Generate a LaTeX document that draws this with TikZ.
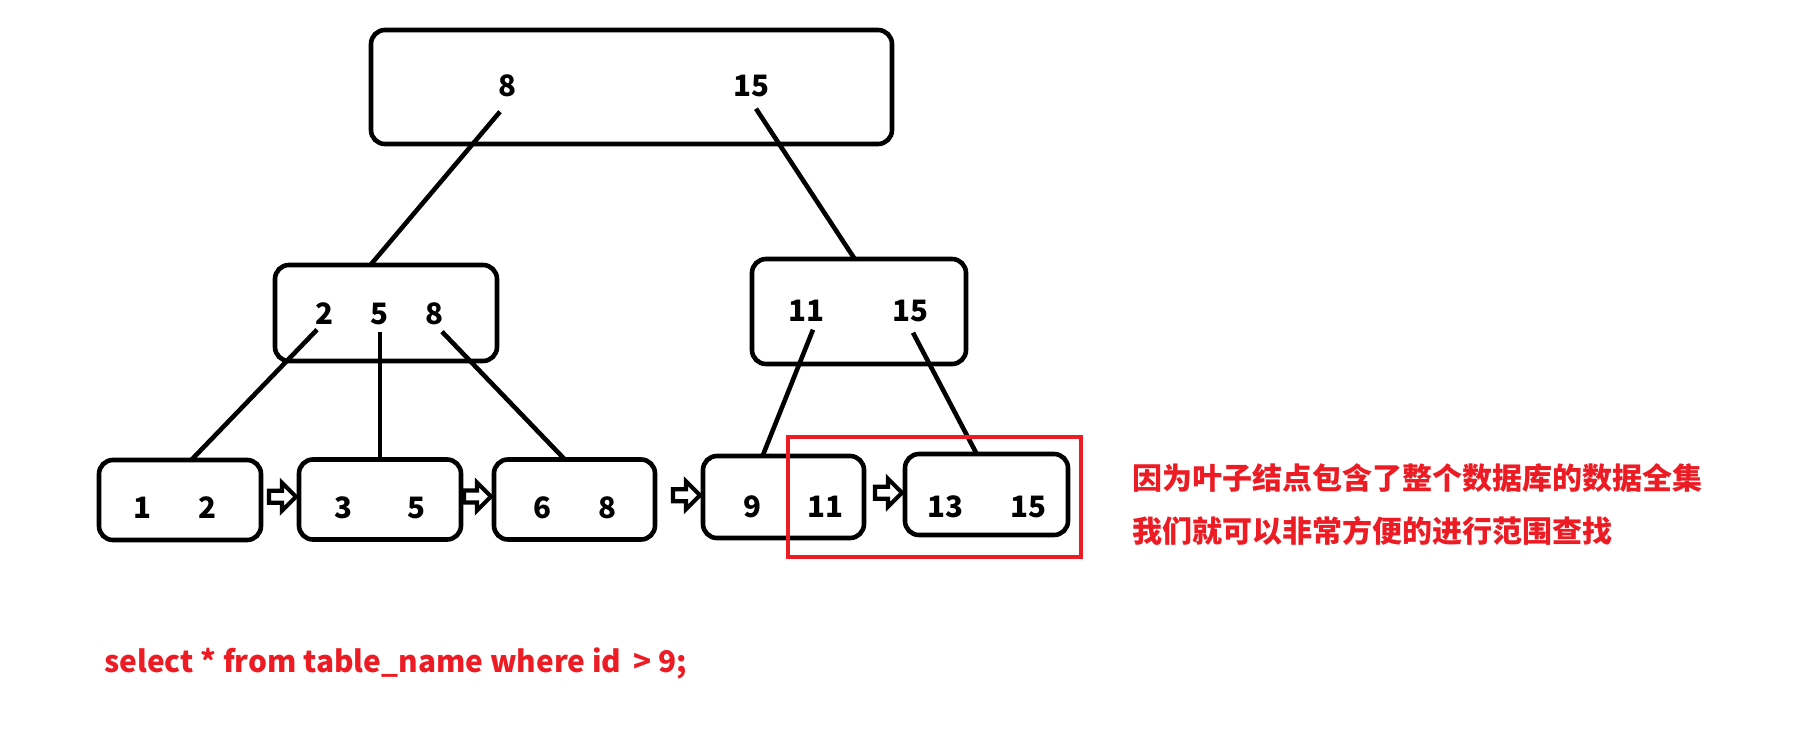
\documentclass[tikz,border=0pt]{standalone}
\usepackage{fontspec}
\newfontfamily\cjk{Noto Sans CJK SC}
\usetikzlibrary{calc}
\definecolor{pred}{HTML}{ED1C24}
\newcommand\blockarr[2]{%
  \path ($(#1.east)!0.5!(#2.west)$) coordinate (m#1#2);
  \draw[blk] ($(#2.west|-m#1#2)+(-3,-3)$) -- ++(-14,-14) -- ++(0,8) -- ++(-13,0) -- ++(0,12) -- ++(13,0) -- ++(0,8) -- cycle;}
\begin{document}
\begin{tikzpicture}[x=1pt,y=-1pt,
  box/.style={draw=black, line width=4.6pt, rounded corners=14pt, inner sep=0pt, outer sep=0pt},
  num/.style={font=\cjk\bfseries\fontsize{29.5}{29.5}\selectfont, inner sep=0pt, text height=21pt, text depth=0pt},
  link/.style={draw=black, line width=4.6pt},
  blk/.style={draw=black, fill=white, line width=4.2pt, line join=miter},
  hl/.style={draw=pred, line width=4.4pt, inner sep=0pt, outer sep=0pt},
  note/.style={font=\cjk\bfseries\fontsize{30}{30}\selectfont, text=pred, inner sep=0pt, anchor=base west}]
\fill[white] (0,0) rectangle (1815,752);
\useasboundingbox (0,0) rectangle (1815,752);

% boxes
\node[box, minimum width=521, minimum height=114] (T) at (631.5,87) {};
\node[box, minimum width=222, minimum height=96] (ML) at (386,313) {};
\node[box, minimum width=214, minimum height=105] (MR) at (859,311.5) {};
\node[box, minimum width=162, minimum height=80] (L1) at (180,500) {};
\node[box, minimum width=162, minimum height=80] (L2) at (380,499.5) {};
\node[box, minimum width=161, minimum height=80] (L3) at (574.5,499.5) {};
\node[box, minimum width=161, minimum height=82] (L4) at (783.5,497) {};
\node[box, minimum width=163, minimum height=81] (L5) at (986.5,494.5) {};

% numbers
\node[num] (r8) at (507,86) {8};
\node[num] (r15) at (751,86) {15};
\node[num] (a2) at (324,314) {2};
\node[num] (a5) at (379,314) {5};
\node[num] (a8) at (434,314) {8};
\node[num] (b11) at (806,311) {11};
\node[num] (b15) at (910,311) {15};
\node[num] (l1a) at (142,508) {1};
\node[num] (l1b) at (207,508) {2};
\node[num] (l2a) at (343,508) {3};
\node[num] (l2b) at (416,508) {5};
\node[num] (l3a) at (542,508) {6};
\node[num] (l3b) at (607,508) {8};
\node[num] (l4a) at (752,507) {9};
\node[num] (l4b) at (825,507) {11};
\node[num] (l5a) at (945,507) {13};
\node[num] (l5b) at (1028,507) {15};

% tree links
\draw[link] ([shift={(-7,15)}]r8.south) -- ($(ML.north west)!0.43!(ML.north east)$);
\draw[link] ([shift={(5,12)}]r15.south) -- ($(MR.north west)!0.48!(MR.north east)$);
\draw[link] ([shift={(-7,5)}]a2.south) -- ($(L1.north west)!0.57!(L1.north east)$);
\draw[link] ([shift={(1,7)}]a5.south) -- ($(L2.north west)!0.5!(L2.north east)$);
\draw[link] ([shift={(8,7)}]a8.south) -- ($(L3.north west)!0.44!(L3.north east)$);
\draw[link] ([shift={(7,8)}]b11.south) -- ($(L4.north west)!0.37!(L4.north east)$);
\draw[link] ([shift={(3,11)}]b15.south) -- ($(L5.north west)!0.44!(L5.north east)$);

% leaf chain arrows
\blockarr{L1}{L2}
\blockarr{L2}{L3}
\blockarr{L3}{L4}
\blockarr{L4}{L5}

% highlight
\node[hl, minimum width=293, minimum height=120] (H) at (934.5,497) {};

% notes
\node[note] (n1) at (1132,489) {因为叶子结点包含了整个数据库的数据全集};
\node[note] (n2) at (1132,542) {我们就可以非常方便的进行范围查找};
\node[note, font=\cjk\bfseries\fontsize{29.8}{29.8}\selectfont] (sql) at (104,672) {select * from table\_name where id\, > 9;};
\end{tikzpicture}
\end{document}
